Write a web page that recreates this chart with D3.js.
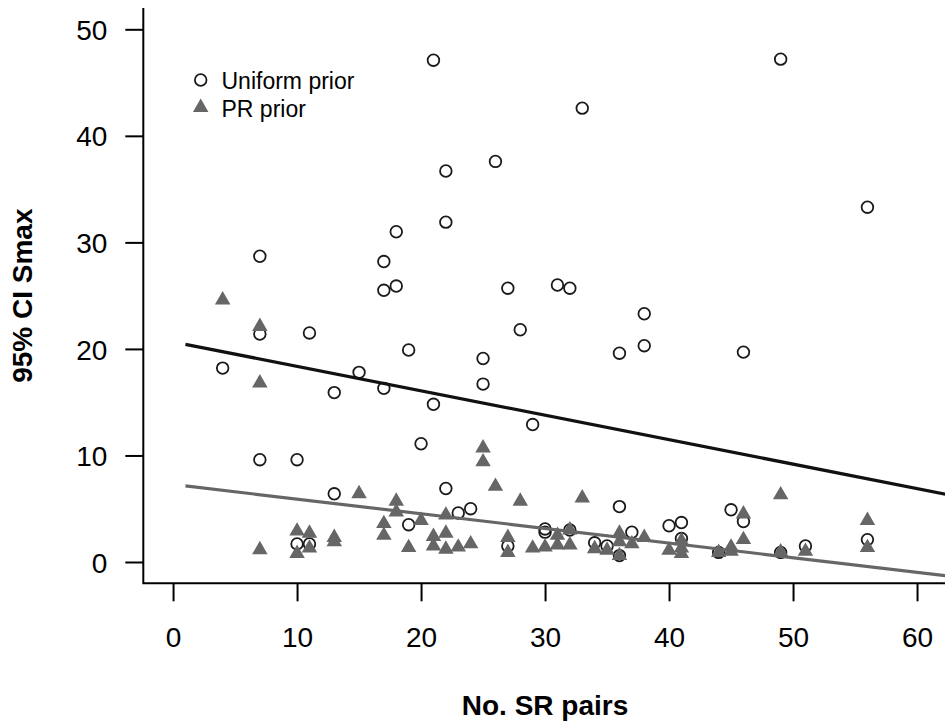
<!DOCTYPE html>
<html>
<head>
<meta charset="utf-8">
<script src="https://cdn.jsdelivr.net/npm/d3@7"></script>
<style>
  html, body { margin: 0; padding: 0; background: #ffffff; }
  svg { display: block; font-family: "Liberation Sans", Arial, Helvetica, sans-serif; }
</style>
</head>
<body>
<svg id="chart" width="945" height="725"></svg>
<script>
// Uniform prior: number of SR pairs vs 95% CI width of Smax
const uniformX = [4, 7, 7, 7, 10, 10, 11, 11, 13, 13, 15, 17, 17, 17, 18, 18, 19, 19, 20, 21,
  21, 22, 22, 22, 23, 24, 25, 25, 26, 27, 27, 28, 29, 30, 30, 31, 32, 32, 33, 34,
  35, 36, 36, 36, 37, 38, 38, 40, 41, 41, 44, 45, 46, 46, 49, 49, 51, 56, 56];
const uniformY = [18.2, 28.7, 21.4, 9.6, 9.6, 1.7, 21.5, 1.7, 15.9, 6.4, 17.8, 28.2, 25.5, 16.3, 31.0, 25.9, 19.9, 3.5, 11.1, 47.1,
  14.8, 36.7, 31.9, 6.9, 4.6, 5.0, 19.1, 16.7, 37.6, 25.7, 1.5, 21.8, 12.9, 3.1, 2.8, 26.0, 25.7, 3.0, 42.6, 1.8,
  1.5, 19.6, 5.2, 0.6, 2.8, 23.3, 20.3, 3.4, 3.7, 2.2, 0.9, 4.9, 19.7, 3.8, 47.2, 0.9, 1.5, 33.3, 2.1];

// PR prior
const prX = [4, 7, 7, 7, 10, 10, 11, 11, 13, 13, 15, 17, 17, 18, 18, 19, 20, 21, 21, 22,
  22, 22, 23, 24, 25, 25, 26, 27, 27, 28, 29, 30, 31, 31, 32, 32, 33, 34, 35, 36,
  36, 36, 37, 38, 40, 41, 41, 41, 44, 45, 45, 46, 46, 49, 49, 51, 56, 56];
const prY = [24.6, 22.1, 16.8, 1.15, 2.9, 0.8, 2.7, 1.3, 2.3, 1.9, 6.4, 3.6, 2.5, 5.7, 4.7, 1.35, 3.9, 2.4, 1.5, 4.4,
  2.7, 1.2, 1.4, 1.7, 10.7, 9.4, 7.1, 2.3, 0.9, 5.7, 1.3, 1.4, 2.5, 1.6, 3.0, 1.6, 6.0, 1.25, 1.1, 2.7,
  1.9, 0.6, 1.7, 2.3, 1.1, 2.0, 1.3, 0.8, 0.9, 1.4, 1.0, 4.5, 2.1, 6.3, 0.95, 1.0, 3.9, 1.35];

// Fitted trend lines (end points)
const fitX = [1, 62.4];
const uniformFitY = [20.43, 6.34];
const prFitY = [7.14, -1.30];

const xTicks = [0, 10, 20, 30, 40, 50, 60];
const yTicks = [0, 10, 20, 30, 40, 50];
const seriesNames = ["Uniform prior", "PR prior"];
const xTitle = "No. SR pairs";
const yTitle = "95% CI Smax";

const svg = d3.select("#chart");
const plotLeft = 143.3, plotRight = 946.8, plotTop = 8, plotBottom = 583.3;

const x = d3.scaleLinear().domain([-2.4, 62.4]).range([plotLeft, plotRight]);
const y = d3.scaleLinear().domain([-2, 52]).range([plotBottom, plotTop]);

const grey = "#666666";
const ink = "#1a1a1a";
const triSide = 15.5;
const triH = triSide * Math.sqrt(3) / 2;
function triPath(cx, cy) {
  return `M${cx},${cy - 2 * triH / 3}L${cx + triSide / 2},${cy + triH / 3}L${cx - triSide / 2},${cy + triH / 3}Z`;
}

svg.append("clipPath").attr("id", "plotClip")
  .append("rect").attr("x", plotLeft).attr("y", plotTop)
  .attr("width", plotRight - plotLeft).attr("height", plotBottom - plotTop);

// L-shaped frame
svg.append("path")
  .attr("d", `M${plotLeft},${plotTop}V${plotBottom}H${plotRight}`)
  .attr("fill", "none").attr("stroke", "#000").attr("stroke-width", 2);

// Axes
const xAxis = svg.append("g").attr("transform", `translate(0,${plotBottom})`)
  .call(d3.axisBottom(x).tickValues(xTicks).tickSize(18).tickSizeOuter(0));
const yAxis = svg.append("g").attr("transform", `translate(${plotLeft},0)`)
  .call(d3.axisLeft(y).tickValues(yTicks).tickSize(18).tickPadding(18).tickSizeOuter(0));
[xAxis, yAxis].forEach(g => {
  g.select(".domain").remove();
  g.selectAll(".tick line").attr("stroke", "#000").attr("stroke-width", 2);
  g.selectAll(".tick text").attr("fill", "#000")
    .style("font-size", "28px").style("font-family", "'Liberation Sans', Arial, sans-serif");
});
xAxis.selectAll(".tick text").attr("dy", null).attr("y", 63.5);
yAxis.selectAll(".tick text").attr("dy", "0.36em");

const plot = svg.append("g").attr("clip-path", "url(#plotClip)");

// Uniform prior: open circles
plot.append("g").selectAll("circle")
  .data(d3.zip(uniformX, uniformY))
  .join("circle")
  .attr("cx", d => x(d[0])).attr("cy", d => y(d[1])).attr("r", 5.8)
  .attr("fill", "none").attr("stroke", ink).attr("stroke-width", 1.8);

// PR prior: filled triangles
plot.append("g").selectAll("path")
  .data(d3.zip(prX, prY))
  .join("path")
  .attr("d", d => triPath(x(d[0]), y(d[1])))
  .attr("fill", grey);

// Trend lines
const line = d3.line().x(d => x(d[0])).y(d => y(d[1]));
plot.append("path").datum(d3.zip(fitX, uniformFitY)).attr("d", line)
  .attr("fill", "none").attr("stroke", "#111").attr("stroke-width", 3.3);
plot.append("path").datum(d3.zip(fitX, prFitY)).attr("d", line)
  .attr("fill", "none").attr("stroke", grey).attr("stroke-width", 3.2);

// Legend
const legend = svg.append("g");
legend.append("circle").attr("cx", 200.7).attr("cy", 80).attr("r", 5.8)
  .attr("fill", "none").attr("stroke", ink).attr("stroke-width", 1.8);
legend.append("path").attr("d", triPath(200.7, 107.5)).attr("fill", grey);
legend.selectAll("text").data(seriesNames).join("text")
  .attr("x", 221.5).attr("y", (d, i) => 89 + i * 27.5)
  .style("font-size", "23px").attr("fill", "#000").text(d => d);

// Axis titles
svg.append("text").attr("x", (plotLeft + plotRight) / 2).attr("y", 715)
  .attr("text-anchor", "middle").style("font-size", "28px").style("font-weight", "bold")
  .text(xTitle);
svg.append("text").attr("transform", `translate(32,${(plotTop + plotBottom) / 2}) rotate(-90)`)
  .attr("text-anchor", "middle").style("font-size", "28px").style("font-weight", "bold")
  .text(yTitle);
</script>
</body>
</html>
